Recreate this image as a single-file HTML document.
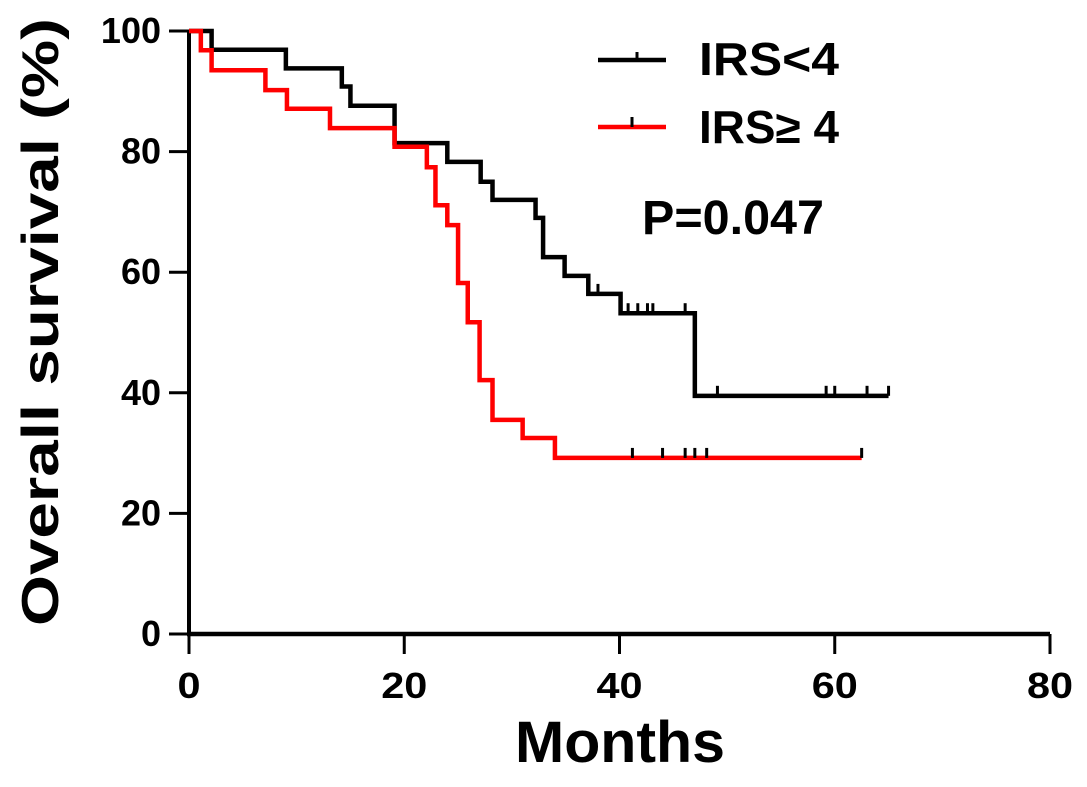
<!DOCTYPE html>
<html><head><meta charset="utf-8"><style>
html,body{margin:0;padding:0;background:#fff;}
svg{display:block;font-family:"Liberation Sans",Arial,sans-serif;font-weight:bold;}
</style></head><body>
<svg id="chart" width="1087" height="787" viewBox="0 0 1087 787" xmlns="http://www.w3.org/2000/svg">
<g id="axes"></g>
<g id="series"></g>
<g>
  <line x1="598" y1="60" x2="666" y2="60" stroke="#000" stroke-width="4.5"/>
  <line x1="637" y1="60" x2="637" y2="52" stroke="#000" stroke-width="3"/>
  <text x="699" y="75" font-size="46" textLength="140" lengthAdjust="spacingAndGlyphs">IRS&lt;4</text>
  <line x1="598" y1="127" x2="666" y2="127" stroke="#f00" stroke-width="4.5"/>
  <line x1="632" y1="127" x2="632" y2="117" stroke="#000" stroke-width="3"/>
  <text x="699" y="143" font-size="46" textLength="140" lengthAdjust="spacingAndGlyphs">IRS≥ 4</text>
</g>
<text x="642" y="234" font-size="48" textLength="182" lengthAdjust="spacingAndGlyphs">P=0.047</text>
<text x="620" y="762" font-size="58" text-anchor="middle" textLength="210" lengthAdjust="spacingAndGlyphs">Months</text>
<text transform="translate(58,322) rotate(-90)" font-size="52" text-anchor="middle" textLength="608" lengthAdjust="spacingAndGlyphs">Overall survival (%)</text>
</svg>
<script>
const xTicks = [0, 20, 40, 60, 80];
const yTicks = [0, 20, 40, 60, 80, 100];
const lowTimes = [0, 2.1, 9.0, 14.2, 15.0, 19.1, 24.0, 27.1, 28.2, 32.2, 32.9, 34.9, 37.1, 40.1, 47.0, 65.0];
const lowSurv  = [100, 96.9, 93.8, 90.8, 87.6, 81.4, 78.3, 75.0, 72.0, 69.0, 62.5, 59.4, 56.4, 53.2, 39.5, 39.5];
const lowCensor = [38.0, 40.8, 41.7, 42.6, 43.1, 46.1, 49.1, 59.2, 60.0, 63.0, 65.0];
const highTimes = [0, 1.1, 2.1, 7.1, 9.1, 13.1, 19.1, 22.1, 22.9, 24.0, 25.0, 25.9, 27.0, 28.2, 31.0, 34.0, 62.5];
const highSurv  = [100, 96.8, 93.5, 90.2, 87.1, 83.9, 80.8, 77.4, 71.1, 67.8, 58.2, 51.7, 42.1, 35.5, 32.5, 29.2, 29.2];
const highCensor = [41.2, 44.0, 46.1, 47.0, 48.1, 62.5];

const NS = "http://www.w3.org/2000/svg";
const X0 = 189, X1 = 1050, Y0 = 634, Y1 = 31;
const xs = v => X0 + (v - 0) / 80 * (X1 - X0);
const ys = v => Y0 - v / 100 * (Y0 - Y1);
function mk(tag, attrs, parent){ const e=document.createElementNS(NS,tag); for(const k in attrs) e.setAttribute(k,attrs[k]); parent.appendChild(e); return e; }
const axes = document.getElementById('axes');
let l = mk('line',{x1:X0,y1:Y1,x2:X0,y2:Y0+1,stroke:'#000','stroke-width':4},axes);


l = mk('line',{x1:X0-2,y1:Y0,x2:X1,y2:Y0,stroke:'#000','stroke-width':4.5},axes);


xTicks.forEach(t=>{
  const tk = mk('line',{x1:xs(t),y1:Y0,x2:xs(t),y2:Y0+20,stroke:'#000','stroke-width':3},axes);
  
  
  const tx = mk('text',{x:xs(t),y:Y0+64,'font-size':36,'text-anchor':'middle','transform':'translate('+xs(t)+','+(Y0+64)+') scale(1.15,1) translate('+(-xs(t))+','+(-(Y0+64))+')'},axes);
  tx.textContent = t;
  
  
});
yTicks.forEach(t=>{
  const tk = mk('line',{x1:X0-20,y1:ys(t),x2:X0,y2:ys(t),stroke:'#000','stroke-width':3},axes);
  
  
  const tx = mk('text',{x:X0-28,y:ys(t)+12,'font-size':36,'text-anchor':'end'},axes);
  tx.textContent = t;
  
  
});
const series = document.getElementById('series');
function stepAt(times, surv, t){ let s = surv[0]; for(let i=0;i<times.length;i++){ if(times[i]<=t) s=surv[i]; } return s; }
function drawCurve(times, surv, censor, color, name){
  let d = 'M'+xs(times[0])+','+ys(surv[0]);
  for(let i=1;i<times.length;i++){ d += ' H'+xs(times[i])+' V'+ys(surv[i]); }
  const p = mk('path',{d:d,fill:'none',stroke:color,'stroke-width':4.5,'stroke-linejoin':'miter'},series);
  
  
  censor.forEach(c=>{
    const y = ys(stepAt(times,surv,c));
    const m = mk('line',{x1:xs(c),y1:y,x2:xs(c),y2:y-10,stroke:'#000','stroke-width':3},series);
    
    
  });
}
drawCurve(lowTimes, lowSurv, lowCensor, '#000', 'irs-lt4');
drawCurve(highTimes, highSurv, highCensor, '#f00', 'irs-ge4');
</script>
</body></html>
